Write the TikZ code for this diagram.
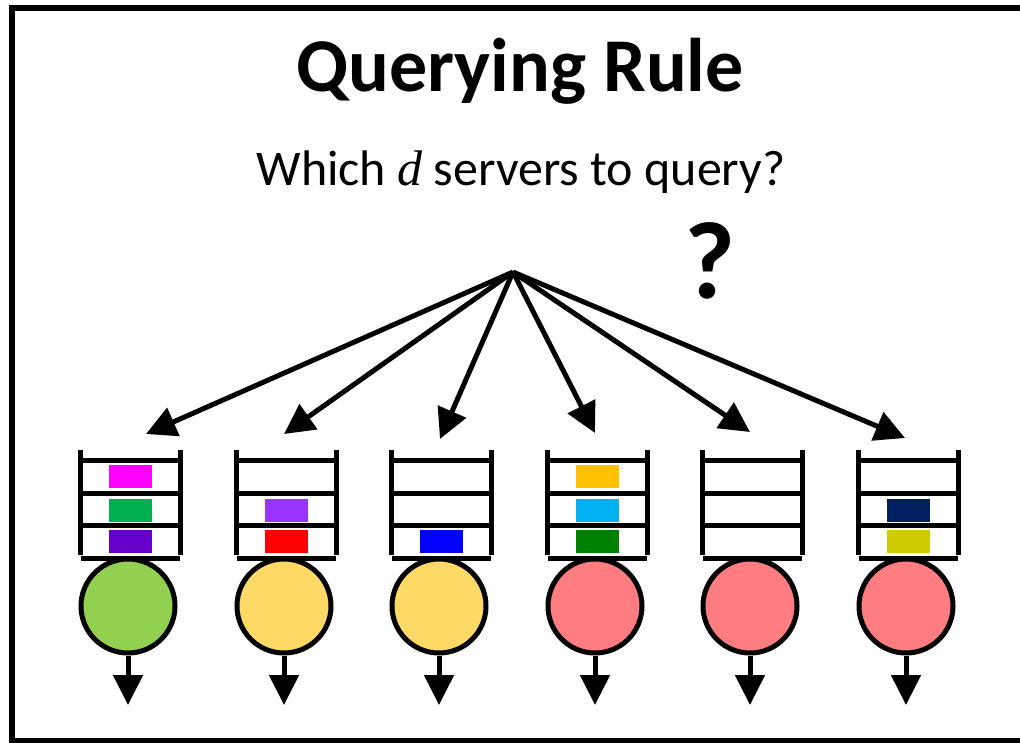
\documentclass[tikz,border=0pt]{standalone}
\usepackage{fontspec}
\setmainfont{Carlito}
\newfontfamily\varfont{Liberation Serif}
\usetikzlibrary{arrows.meta}
\definecolor{qmagenta}{HTML}{FF00FF}
\definecolor{qgreen}{HTML}{00B050}
\definecolor{qviolet}{HTML}{6600CC}
\definecolor{qpurple}{HTML}{9933FF}
\definecolor{qred}{HTML}{FF0000}
\definecolor{qblue}{HTML}{0000FF}
\definecolor{qgold}{HTML}{FFC000}
\definecolor{qsky}{HTML}{00B0F0}
\definecolor{qdkgreen}{HTML}{008000}
\definecolor{qnavy}{HTML}{002060}
\definecolor{qolive}{HTML}{CCCC00}
\definecolor{srvgreen}{HTML}{92D050}
\definecolor{srvyellow}{HTML}{FFD966}
\definecolor{srvred}{HTML}{FF7C80}
\tikzset{
  bar/.style={line width=5pt},
  server/.style={circle,draw,line width=5pt,minimum size=94pt,inner sep=0pt},
  job/.style={minimum width=43pt,minimum height=23pt,inner sep=0pt},
  fan/.style={line width=5pt,-{Triangle[length=30pt,width=30pt]}},
  outflow/.style={line width=5pt,-{Triangle[length=30pt,width=29pt]}},
}
\begin{document}
\begin{tikzpicture}[x=1pt,y=-1pt]
\useasboundingbox (0,0) rectangle (1020,743);
% outer frame (runs off the right edge)
\draw[line width=6pt] (1030,8) -- (12,8) -- (12,741) -- (1030,741);

\node[font=\bfseries\fontsize{76}{78}\selectfont,anchor=base] (title) at (520,92) {Querying Rule};
\node[font=\fontsize{50}{52}\selectfont,anchor=base] (sub) at (521,186) {Which {\varfont\itshape d} servers to query?};
\node[font=\bfseries\fontsize{110}{110}\selectfont,anchor=base] (qm) at (710,299) {?};

\coordinate (src) at (513,272);

% queues with their servers
% #1 index, #2 centre x, #3 server colour
\foreach \i/\cx/\col in {1/128/srvgreen,2/284/srvyellow,3/439/srvyellow,4/595/srvred,5/750/srvred,6/906/srvred}{
  \draw[bar] (\cx-48,450) -- (\cx-48,555);
  \draw[bar] (\cx+52,450) -- (\cx+52,555);
  \foreach \yy in {460,493,525}{\draw[bar] (\cx-48,\yy) -- (\cx+52,\yy);}
  \draw[bar] (\cx-47,558) -- (\cx+52,558);
  \coordinate (top\i) at (\cx+2,450);
  \node[server,fill=\col] (srv\i) at (\cx,606) {};
  \coordinate (out\i) at (\cx,705);
  \draw[outflow] (srv\i.south) -- (out\i);
}

% jobs waiting in the queues (slot 1 top, slot 3 bottom)
\foreach \cx/\sy/\col in {128/476/qmagenta,128/510/qgreen,128/541/qviolet,
  284/510/qpurple,284/541/qred,
  439/541/qblue,
  595/476/qgold,595/510/qsky,595/541/qdkgreen,
  906/510/qnavy,906/541/qolive}{
  \node[job,fill=\col] at (\cx+2,\sy) {};
}

% query fan
\coordinate (t1) at (146,434);
\coordinate (t2) at (284,434);
\coordinate (t3) at (440,439);
\coordinate (t4) at (595,433);
\coordinate (t5) at (750,432);
\coordinate (t6) at (905,438);
\foreach \i in {1,...,6}{\draw[fan] (src) -- (t\i);}
\end{tikzpicture}
\end{document}
